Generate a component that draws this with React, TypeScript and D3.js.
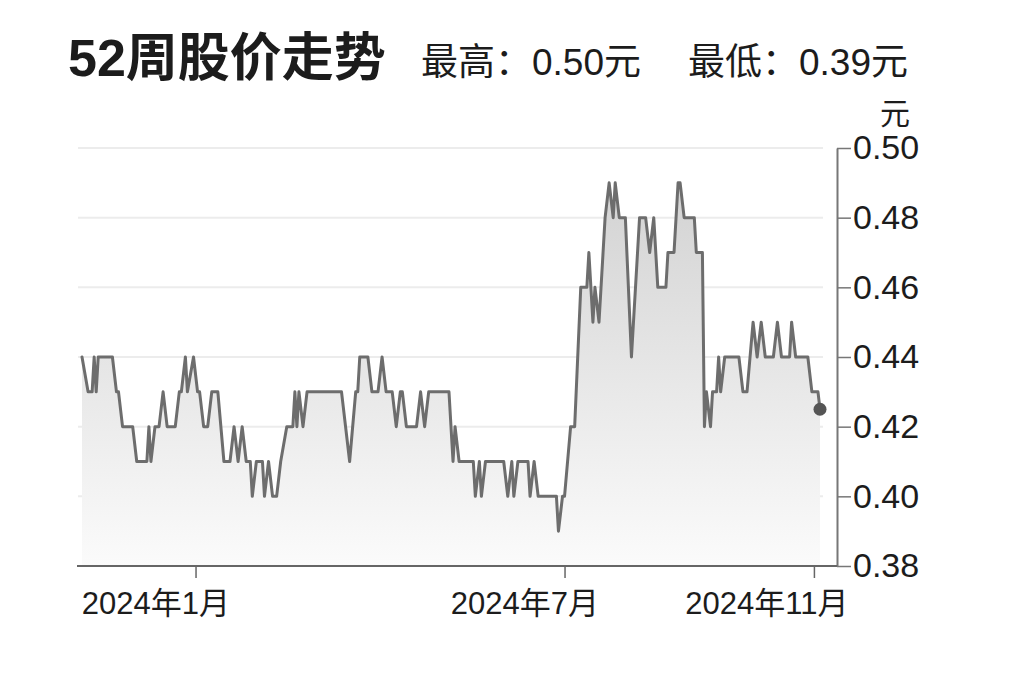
import * as d3 from "d3";
import React, { useEffect, useRef } from "react";

// turning points of the daily close line (元)
const dates = [
  "2023-11-06", "2023-11-09", "2023-11-11", "2023-11-12", "2023-11-13", "2023-11-14", "2023-11-21",
  "2023-11-23", "2023-11-24", "2023-11-26", "2023-12-01", "2023-12-03", "2023-12-08", "2023-12-09",
  "2023-12-10", "2023-12-12", "2023-12-14", "2023-12-16", "2023-12-18", "2023-12-22", "2023-12-24",
  "2023-12-25", "2023-12-27", "2023-12-28", "2023-12-31", "2024-01-02", "2024-01-03", "2024-01-05",
  "2024-01-07", "2024-01-09", "2024-01-12", "2024-01-15", "2024-01-18", "2024-01-20", "2024-01-22",
  "2024-01-24", "2024-01-26", "2024-01-28", "2024-01-29", "2024-01-31", "2024-02-03", "2024-02-04",
  "2024-02-06", "2024-02-08", "2024-02-10", "2024-02-12", "2024-02-15", "2024-02-18", "2024-02-19",
  "2024-02-20", "2024-02-21", "2024-02-23", "2024-02-25", "2024-03-13", "2024-03-17", "2024-03-20",
  "2024-03-21", "2024-03-22", "2024-03-26", "2024-03-28", "2024-03-31", "2024-04-02", "2024-04-04",
  "2024-04-07", "2024-04-09", "2024-04-11", "2024-04-12", "2024-04-14", "2024-04-19", "2024-04-21",
  "2024-04-23", "2024-04-25", "2024-05-05", "2024-05-07", "2024-05-08", "2024-05-10", "2024-05-17",
  "2024-05-18", "2024-05-20", "2024-05-21", "2024-05-23", "2024-06-01", "2024-06-03", "2024-06-05",
  "2024-06-06", "2024-06-08", "2024-06-13", "2024-06-14", "2024-06-16", "2024-06-18", "2024-06-27",
  "2024-06-28", "2024-06-30", "2024-07-01", "2024-07-04", "2024-07-06", "2024-07-09", "2024-07-12",
  "2024-07-13", "2024-07-15", "2024-07-16", "2024-07-18", "2024-07-21", "2024-07-23", "2024-07-25",
  "2024-07-26", "2024-07-28", "2024-07-31", "2024-08-03", "2024-08-07", "2024-08-10", "2024-08-12",
  "2024-08-14", "2024-08-16", "2024-08-20", "2024-08-21", "2024-08-24", "2024-08-26", "2024-08-27",
  "2024-08-29", "2024-09-03", "2024-09-04", "2024-09-07", "2024-09-08", "2024-09-09", "2024-09-11",
  "2024-09-12", "2024-09-14", "2024-09-15", "2024-09-16", "2024-09-18", "2024-09-25", "2024-09-27",
  "2024-09-29", "2024-10-02", "2024-10-04", "2024-10-06", "2024-10-08", "2024-10-12", "2024-10-14",
  "2024-10-16", "2024-10-20", "2024-10-21", "2024-10-23", "2024-10-29", "2024-10-31", "2024-11-03",
  "2024-11-04",
];

const closes = [
  0.44, 0.43, 0.43, 0.44, 0.43, 0.44, 0.44,
  0.43, 0.43, 0.42, 0.42, 0.41, 0.41, 0.42,
  0.41, 0.42, 0.42, 0.43, 0.42, 0.42, 0.43,
  0.43, 0.44, 0.43, 0.44, 0.43, 0.43, 0.42,
  0.42, 0.43, 0.43, 0.41, 0.41, 0.42, 0.41,
  0.42, 0.41, 0.41, 0.40, 0.41, 0.41, 0.40,
  0.41, 0.40, 0.40, 0.41, 0.42, 0.42, 0.43,
  0.42, 0.43, 0.42, 0.43, 0.43, 0.41, 0.43,
  0.43, 0.44, 0.44, 0.43, 0.43, 0.44, 0.43,
  0.43, 0.42, 0.43, 0.43, 0.42, 0.42, 0.43,
  0.42, 0.43, 0.43, 0.41, 0.42, 0.41, 0.41,
  0.40, 0.41, 0.40, 0.41, 0.41, 0.40, 0.41,
  0.40, 0.41, 0.41, 0.40, 0.41, 0.40, 0.40,
  0.39, 0.40, 0.40, 0.42, 0.42, 0.46, 0.46,
  0.47, 0.45, 0.46, 0.45, 0.48, 0.49, 0.48,
  0.49, 0.48, 0.48, 0.44, 0.48, 0.48, 0.47,
  0.48, 0.46, 0.46, 0.47, 0.47, 0.49, 0.49,
  0.48, 0.48, 0.47, 0.47, 0.42, 0.43, 0.42,
  0.43, 0.43, 0.44, 0.43, 0.44, 0.44, 0.43,
  0.43, 0.45, 0.44, 0.45, 0.44, 0.44, 0.45,
  0.44, 0.44, 0.45, 0.44, 0.44, 0.43, 0.43,
  0.425,
];

const yTicks = [0.38, 0.4, 0.42, 0.44, 0.46, 0.48, 0.5];
const xTickDates = ["2024-01-01", "2024-07-01", "2024-11-01"];
const xTickLabels = ["2024年1月", "2024年7月", "2024年11月"];

const title = "52周股价走势";
const highText = "最高：0.50元";
const lowText = "最低：0.39元";
const unitText = "元";

const FONT = "'Liberation Sans', 'Noto Sans CJK SC', sans-serif";
const INK = "#1c1c1c";

const StockChart: React.FC = () => {
  const svgRef = useRef<SVGSVGElement | null>(null);

  useEffect(() => {
    if (!svgRef.current) return;

    const width = 1024;
    const height = 682;
    const plotLeft = 82;
    const plotRight = 820;
    const axisX = 837;
    const top = 148;
    const bottom = 566;

    const parse = d3.timeParse("%Y-%m-%d");
    const data = dates.map((d, i) => ({ date: parse(d) as Date, close: closes[i] }));

    const x = d3
      .scaleTime()
      .domain(d3.extent(data, (d) => d.date) as [Date, Date])
      .range([plotLeft, plotRight]);

    const y = d3.scaleLinear().domain([0.38, 0.5]).range([bottom, top]);

    const svg = d3.select(svgRef.current);
    svg.selectAll("*").remove();

    svg.append("rect").attr("width", width).attr("height", height).attr("fill", "#fff");

    const grad = svg
      .append("defs")
      .append("linearGradient")
      .attr("id", "areaFill")
      .attr("gradientUnits", "userSpaceOnUse")
      .attr("x1", 0)
      .attr("x2", 0)
      .attr("y1", top)
      .attr("y2", bottom);
    grad.append("stop").attr("offset", "0%").attr("stop-color", "#cfcfcf");
    grad.append("stop").attr("offset", "100%").attr("stop-color", "#fbfbfb");

    // headers
    svg
      .append("text")
      .attr("x", 68)
      .attr("y", 76)
      .attr("font-family", FONT)
      .attr("font-size", 52)
      .attr("font-weight", 700)
      .attr("fill", INK)
      .text(title);

    svg
      .append("text")
      .attr("x", 421)
      .attr("y", 75)
      .attr("font-family", FONT)
      .attr("font-size", 37)
      .attr("fill", INK)
      .text(highText);

    svg
      .append("text")
      .attr("x", 688)
      .attr("y", 75)
      .attr("font-family", FONT)
      .attr("font-size", 37)
      .attr("fill", INK)
      .text(lowText);

    svg
      .append("text")
      .attr("x", 895)
      .attr("y", 124)
      .attr("text-anchor", "middle")
      .attr("font-family", FONT)
      .attr("font-size", 30)
      .attr("fill", INK)
      .text(unitText);

    // gridlines
    svg
      .append("g")
      .selectAll("line")
      .data(yTicks.filter((t) => t > 0.38))
      .join("line")
      .attr("x1", plotLeft - 4)
      .attr("x2", plotRight + 3)
      .attr("y1", (d) => y(d))
      .attr("y2", (d) => y(d))
      .attr("stroke", "#ececec")
      .attr("stroke-width", 2);

    // area + line
    const area = d3
      .area<{ date: Date; close: number }>()
      .x((d) => x(d.date))
      .y0(y(0.38))
      .y1((d) => y(d.close));

    const line = d3
      .line<{ date: Date; close: number }>()
      .x((d) => x(d.date))
      .y((d) => y(d.close));

    svg.append("path").datum(data).attr("fill", "url(#areaFill)").attr("d", area);

    svg
      .append("path")
      .datum(data)
      .attr("fill", "none")
      .attr("stroke", "#6d6d6d")
      .attr("stroke-width", 3)
      .attr("stroke-linejoin", "round")
      .attr("stroke-linecap", "round")
      .attr("d", line);

    const last = data[data.length - 1];
    svg
      .append("circle")
      .attr("cx", x(last.date))
      .attr("cy", y(last.close))
      .attr("r", 6.5)
      .attr("fill", "#555");

    // y axis on the right
    svg
      .append("g")
      .attr("transform", `translate(${axisX},0)`)
      .call(
        d3
          .axisRight(y)
          .tickValues(yTicks)
          .tickSize(14)
          .tickSizeOuter(0)
          .tickPadding(2)
          .tickFormat((d) => d3.format(".2f")(d as number)),
      )
      .call((g) => g.select(".domain").attr("stroke", "#777").attr("stroke-width", 2))
      .call((g) => g.selectAll(".tick line").attr("stroke", "#777").attr("stroke-width", 1.5))
      .call((g) =>
        g
          .selectAll(".tick text")
          .attr("font-family", FONT)
          .attr("font-size", 34)
          .attr("fill", INK),
      );

    // x axis
    const xAxis = svg
      .append("g")
      .attr("transform", `translate(0,${bottom})`)
      .call(
        d3
          .axisBottom(x)
          .tickValues(xTickDates.map((d) => parse(d) as Date))
          .tickSize(12)
          .tickSizeOuter(0)
          .tickFormat((_, i) => xTickLabels[i]),
      )
      .call((g) => g.select(".domain").remove())
      .call((g) => g.selectAll(".tick line").attr("stroke", "#666").attr("stroke-width", 1.5))
      .call((g) =>
        g
          .selectAll(".tick text")
          .attr("font-family", FONT)
          .attr("font-size", 31)
          .attr("fill", INK)
          .attr("text-anchor", "end")
          .attr("x", 34)
          .attr("y", 26),
      );

    xAxis
      .append("line")
      .attr("x1", 77)
      .attr("x2", axisX)
      .attr("stroke", "#666")
      .attr("stroke-width", 2);
  }, []);

  return (
    <svg
      ref={svgRef}
      width="1024"
      height="682"
      style={{ position: "absolute", left: 0, top: 0, display: "block" }}
    />
  );
};

export default function App() {
  return <StockChart />;
}
